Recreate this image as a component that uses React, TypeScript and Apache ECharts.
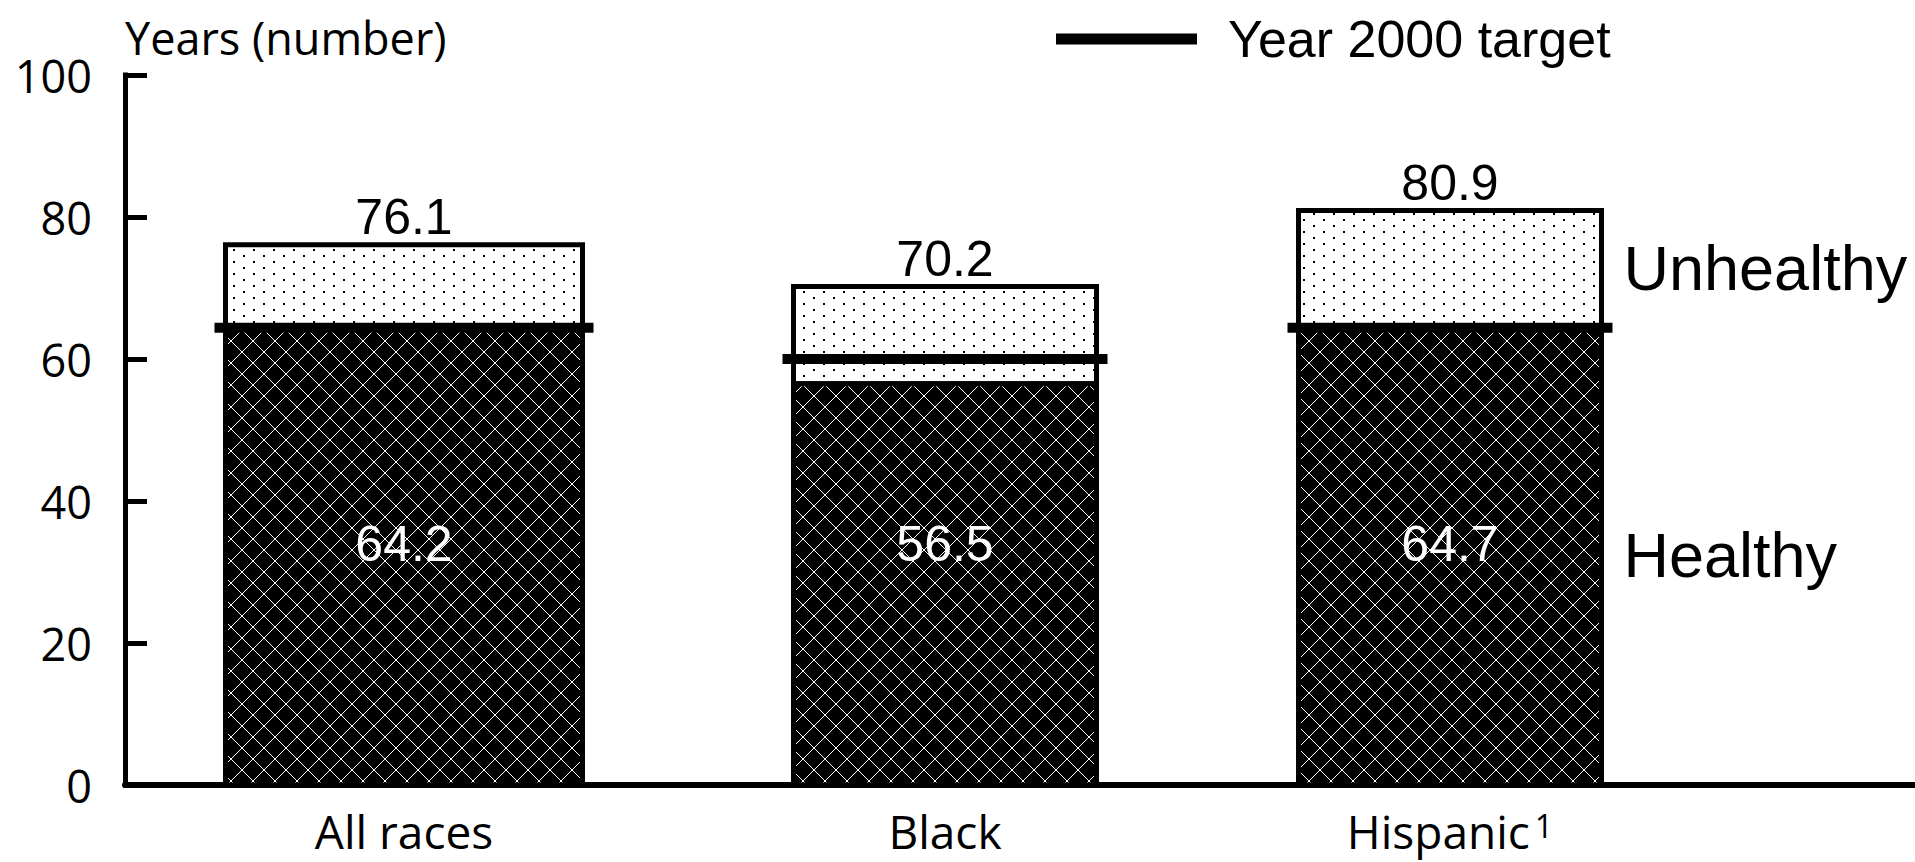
import React, { useEffect, useRef } from "react";
import * as echarts from "echarts";

// ---------- data ----------
const CATEGORIES = ["All races", "Black", "Hispanic"];
const CATEGORY_NOTES = ["", "", "1"];
const HEALTHY_YEARS = [64.2, 56.5, 64.7];
const TOTAL_YEARS = [76.1, 70.2, 80.9];
const TARGET_YEARS = [64.4, 60, 64.4];
const Y_TICKS = [0, 20, 40, 60, 80, 100];
const SEGMENT_NAMES = ["Unhealthy", "Healthy"];
const LEGEND_NAME = "Year 2000 target";
const Y_AXIS_NAME = "Years (number)";

// ---------- layout (x-axis units are pixels across the plot) ----------
const X_SPAN = 1790;
const CAT_X = [279, 820, 1325];
const BAR_W = [357, 303, 303];
const TARGET_OVERHANG = 11;
const INNER_LABEL_Y = 34;

const SANS = "'Liberation Sans', Arial, sans-serif";
const HUMANIST = "'Open Sans', 'Noto Sans', sans-serif";

function dotTile(): HTMLCanvasElement {
  const w = 20;
  const h = 12;
  const c = document.createElement("canvas");
  c.width = w;
  c.height = h;
  const g = c.getContext("2d")!;
  g.fillStyle = "#fff";
  g.fillRect(0, 0, w, h);
  g.fillStyle = "#000";
  g.fillRect(3, 3, 2, 2);
  g.fillRect(13, 9, 2, 2);
  return c;
}

function hatchTile(): HTMLCanvasElement {
  const n = 22;
  const c = document.createElement("canvas");
  c.width = n;
  c.height = n;
  const g = c.getContext("2d")!;
  g.fillStyle = "#000";
  g.fillRect(0, 0, n, n);
  g.fillStyle = "#fff";
  for (let i = 0; i < n; i++) {
    g.fillRect(i, i, 1, 1);
    g.fillRect(n - 1 - i, i, 1, 1);
  }
  return c;
}

export default function App() {
  const ref = useRef<HTMLDivElement>(null);

  useEffect(() => {
    if (!ref.current) return;
    const chart = echarts.init(ref.current, undefined, { renderer: "svg" });

    const dots = dotTile();
    const hatch = hatchTile();
    const dotFill = { image: dots.toDataURL(), repeat: "repeat", imageWidth: dots.width, imageHeight: dots.height };
    const hatchFill = { image: hatch.toDataURL(), repeat: "repeat", imageWidth: hatch.width, imageHeight: hatch.height };

    const last = CATEGORIES.length - 1;

    const segment = (
      name: string,
      lo: number[],
      hi: number[],
      fill: any,
      kind: "top" | "bottom"
    ) => ({
      type: "custom",
      name,
      data: CATEGORIES.map((_, i) => [CAT_X[i], lo[i], hi[i]]),
      encode: { x: 0, y: [1, 2] },
      renderItem: (params: any, api: any) => {
        const i = params.dataIndex;
        const x = api.value(0);
        const a = api.coord([x, api.value(1)]);
        const b = api.coord([x, api.value(2)]);
        const w = api.size([BAR_W[i], 0])[0];
        const children: any[] = [
          {
            type: "rect",
            shape: { x: a[0] - w / 2, y: b[1], width: w, height: a[1] - b[1] },
            style: { fill, stroke: "#000", lineWidth: 5 },
          },
        ];
        if (kind === "top") {
          children.push({
            type: "text",
            x: b[0],
            y: b[1] - 28,
            style: {
              text: String(api.value(2)),
              fill: "#000",
              fontSize: 50,
              fontFamily: SANS,
              align: "center",
              verticalAlign: "middle",
            },
          });
        } else {
          const p = api.coord([x, INNER_LABEL_Y]);
          children.push({
            type: "text",
            x: p[0],
            y: p[1],
            style: {
              text: String(api.value(2)),
              fill: "#fff",
              fontSize: 50,
              fontFamily: SANS,
              align: "center",
              verticalAlign: "middle",
            },
          });
        }
        if (i === last) {
          const mid = api.coord([x, (api.value(1) + api.value(2)) / 2]);
          children.push({
            type: "text",
            x: a[0] + w / 2 + 22,
            y: mid[1],
            style: {
              text: name,
              fill: "#000",
              fontSize: 63,
              fontFamily: SANS,
              align: "left",
              verticalAlign: "middle",
            },
          });
        }
        return { type: "group", children };
      },
    });

    const option: any = {
      animation: false,
      color: ["#000"],
      grid: { left: 125, right: 0, top: 75, bottom: 77, containLabel: false, outerBoundsMode: "none" },
      legend: {
        data: [{ name: LEGEND_NAME, icon: "rect" }],
        left: 1056,
        top: 13,
        padding: 0,
        itemWidth: 141,
        itemHeight: 11,
        textStyle: {
          fontSize: 52,
          fontFamily: SANS,
          color: "#000",
          padding: [0, 0, 0, 26],
        },
        selectedMode: false,
      },
      xAxis: {
        type: "value",
        min: 0,
        max: X_SPAN,
        axisLine: { show: true, lineStyle: { color: "#000", width: 6 } },
        axisTick: { show: false },
        splitLine: { show: false },
        axisLabel: {
          customValues: CAT_X,
          margin: 24,
          color: "#000",
          fontSize: 46,
          fontFamily: HUMANIST,
          formatter: (v: number) => {
            const i = CAT_X.indexOf(v);
            if (i < 0) return "";
            return CATEGORY_NOTES[i]
              ? `{n|${CATEGORIES[i]}}{s|${CATEGORY_NOTES[i]}}`
              : `{n|${CATEGORIES[i]}}`;
          },
          rich: {
            n: { fontSize: 46, fontFamily: HUMANIST, color: "#000", lineHeight: 44 },
            s: { fontSize: 32, fontFamily: HUMANIST, color: "#000", verticalAlign: "top", lineHeight: 32, padding: [0, 0, 0, 5] },
          },
        },
      },
      yAxis: {
        type: "value",
        min: Y_TICKS[0],
        max: Y_TICKS[Y_TICKS.length - 1],
        interval: Y_TICKS[1] - Y_TICKS[0],
        name: Y_AXIS_NAME,
        nameLocation: "end",
        nameGap: 15,
        nameTextStyle: { fontSize: 45, fontFamily: HUMANIST, color: "#000", align: "left" },
        axisLine: { show: true, lineStyle: { color: "#000", width: 5, cap: "square" } },
        axisTick: { show: true, inside: true, length: 22, lineStyle: { color: "#000", width: 5 } },
        splitLine: { show: false },
        axisLabel: { margin: 33, color: "#000", fontSize: 45, fontFamily: HUMANIST },
      },
      series: [
        segment(SEGMENT_NAMES[0], HEALTHY_YEARS, TOTAL_YEARS, dotFill, "top"),
        segment(SEGMENT_NAMES[1], HEALTHY_YEARS.map(() => 0), HEALTHY_YEARS, hatchFill, "bottom"),
        {
          type: "custom",
          name: LEGEND_NAME,
          itemStyle: { color: "#000" },
          data: CATEGORIES.map((_, i) => [CAT_X[i], TARGET_YEARS[i]]),
          encode: { x: 0, y: 1 },
          renderItem: (params: any, api: any) => {
            const i = params.dataIndex;
            const p = api.coord([api.value(0), api.value(1)]);
            const half = api.size([BAR_W[i] / 2 + TARGET_OVERHANG, 0])[0];
            return {
              type: "line",
              shape: { x1: p[0] - half, y1: p[1], x2: p[0] + half, y2: p[1] },
              style: { stroke: "#000", lineWidth: 10 },
            };
          },
        },
      ],
    };

    chart.setOption(option);
    return () => chart.dispose();
  }, []);

  return (
    <div
      ref={ref}
      style={{ position: "fixed", left: 0, top: 0, width: 1915, height: 862, background: "#fff" }}
    />
  );
}
